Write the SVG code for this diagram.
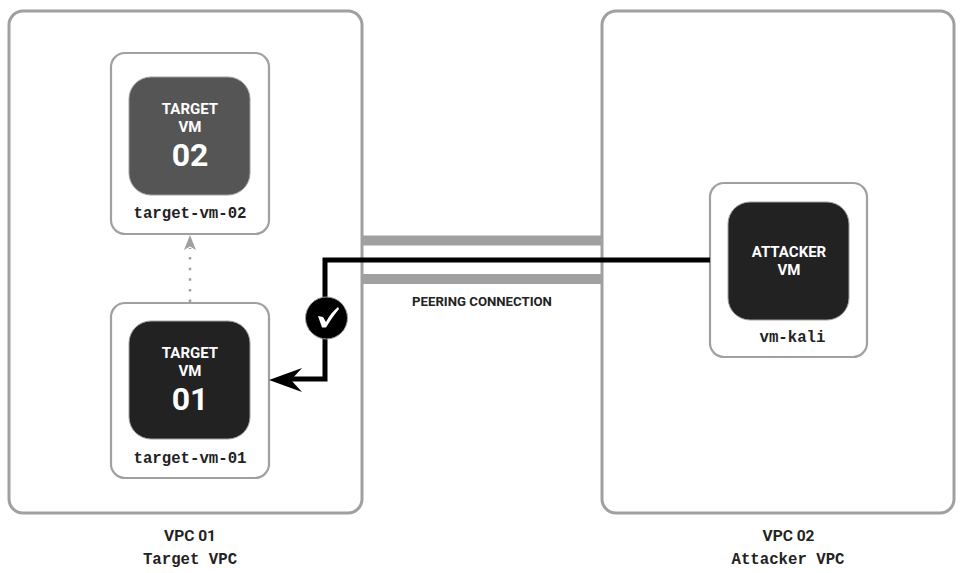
<svg xmlns="http://www.w3.org/2000/svg" width="964" height="573" viewBox="0 0 964 573">
<style>
.vpc{fill:#fff;stroke:#a0a0a0;stroke-width:3}
.box{fill:#fff;stroke:#a0a0a0;stroke-width:2.2}
.vm{stroke:#a0a0a0;stroke-width:1}
.t{font-family:"Roboto","Liberation Sans",sans-serif;font-weight:700;text-anchor:middle}
.w{fill:#fff;font-size:15px}
.n{fill:#fff;font-size:32px}
.d{fill:#222;font-size:15.500px}
.m{font-family:"Liberation Mono","Courier New",monospace;font-weight:700;font-size:15.700px;fill:#222;text-anchor:middle}
</style>
<rect width="964" height="573" fill="#fff"/>
<g id="vpc-01"><rect class="vpc" x="9" y="11" width="353" height="502" rx="14"/><text class="t d" x="190" y="541">VPC 01</text><text class="m" x="190" y="564">Target VPC</text></g>
<g id="vpc-02"><rect class="vpc" x="602" y="11" width="352" height="502" rx="14"/><text class="t d" x="788.500" y="541">VPC 02</text><text class="m" x="788" y="564">Attacker VPC</text></g>
<g id="target-vm-02"><rect class="box" x="111" y="53" width="158" height="181" rx="14"/><rect class="vm" x="129" y="77" width="121" height="118" rx="22" fill="#555"/><text class="t w" x="190" y="114">TARGET</text><text class="t w" x="190" y="132">VM</text><text class="t n" x="190" y="166">02</text><text class="m" x="190" y="218">target-vm-02</text></g>
<g id="target-vm-01"><rect class="box" x="111" y="303" width="158" height="175" rx="14"/><rect class="vm" x="129" y="321" width="121" height="118" rx="22" fill="#222"/><text class="t w" x="190" y="358">TARGET</text><text class="t w" x="190" y="376">VM</text><text class="t n" x="190" y="410">01</text><text class="m" x="190" y="463">target-vm-01</text></g>
<g id="vm-kali"><rect class="box" x="710" y="183" width="157" height="174" rx="14"/><rect class="vm" x="728" y="202" width="121" height="118" rx="22" fill="#222"/><text class="t w" x="789" y="257">ATTACKER</text><text class="t w" x="789" y="275">VM</text><text class="m" x="792.500" y="342">vm-kali</text></g>
<g id="connectors">
<rect x="362" y="235.500" width="240" height="10" fill="#a0a0a0"/>
<rect x="362" y="274" width="240" height="10" fill="#a0a0a0"/>
<text class="t d" x="482" y="306" style="font-size:13.200px">PEERING CONNECTION</text>
<path d="M190 302V248" fill="none" stroke="#a0a0a0" stroke-width="2.500" stroke-dasharray="2.500 8.100"/>
<path d="M190 235L196 250L190 246.500L184 250Z" fill="#a0a0a0"/>
<path d="M710 260H325V379H290" fill="none" stroke="#000" stroke-width="5"/>
<path d="M269 380L302 368L291 380L302 392Z" fill="#000"/>
<circle cx="326.500" cy="318" r="21" fill="#000" stroke="#a0a0a0" stroke-width="1"/>
<path d="M318 316L323 317L326 322C329 316 333 311 338 307L339 309C334 315 330 321 326 327.500L322 327.500Z" fill="#fff"/>
</g>
</svg>
